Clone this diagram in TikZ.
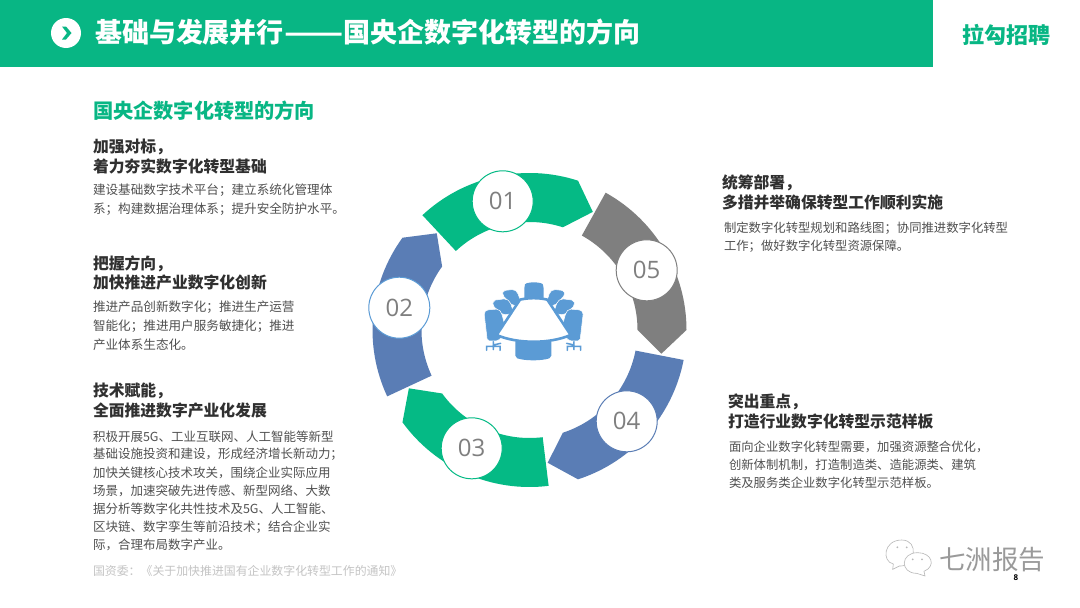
\documentclass[tikz,border=0pt]{standalone}
\usepackage{fontspec}
\setmainfont{Noto Sans CJK SC}
\newfontfamily\latn{Open Sans}
\definecolor{hgreen}{HTML}{08B684}
\definecolor{sgreen}{HTML}{05BA85}
\definecolor{sblue}{HTML}{5A7DB5}
\definecolor{lblue}{HTML}{5B9BD5}
\definecolor{sgray}{HTML}{7F7F7F}
\definecolor{headc}{HTML}{303030}
\definecolor{bodyc}{HTML}{505050}
\definecolor{srcc}{HTML}{C4C4C4}
\definecolor{wmc}{HTML}{9A9A9A}
\newcommand{\fs}[1]{\fontsize{#1pt}{#1pt}\selectfont}
\tikzset{
  txt/.style={anchor=west,inner sep=0pt,outer sep=0pt},
  headt/.style={txt,text=headc,font=\fs{15.8}\bfseries},
  bodyt/.style={txt,text=bodyc,font=\fs{12.6}},
  numc/.style={circle,fill=white,draw=#1,line width=1pt,minimum size=61pt,inner sep=0pt,text=sgray,font=\latn\fs{24}},
  seg/.style={fill=#1,draw=none},
  chair/.style={fill=lblue,draw=white,line width=0.5pt,rounded corners=2pt},
  leg/.style={draw=lblue,line width=1.5pt,line cap=round,fill=none},
}
\begin{document}
\begin{tikzpicture}[x=1pt,y=-1pt]
\useasboundingbox (0,0) rectangle (1080,608);
\fill[white] (0,0) rectangle (1080,608);
% header
\fill[hgreen] (0,0) rectangle (933,67);
\node[circle,fill=white,minimum size=30pt,inner sep=0pt] (hicon) at (66,33) {};
\fill[hgreen] (62,26.5) -- (66,26.5) -- (71.5,33) -- (66,39.5) -- (62,39.5) -- (67,33) -- cycle;
\node[txt,text=white,font=\fs{27}\bfseries] (title) at (95,32.5) {基础与发展并行\scalebox{1.28}[1]{——}国央企数字化转型的方向};
\node[anchor=center,inner sep=0pt,text=hgreen,font=\fs{22}\bfseries] (brand) at (1006.5,35) {拉勾招聘};
% left texts
\node[txt,text=hgreen,font=\fs{20.2}\bfseries] (sub) at (93,111) {国央企数字化转型的方向};
\node[headt] (h1a) at (93,147) {加强对标，};
\node[headt] (h1b) at (93,166) {着力夯实数字化转型基础};
\node[bodyt] (b1a) at (93,190) {建设基础数字技术平台；建立系统化管理体};
\node[bodyt] (b1b) at (93,209) {系；构建数据治理体系；提升安全防护水平。};
\node[headt] (h2a) at (93,264) {把握方向，};
\node[headt] (h2b) at (93,283) {加快推进产业数字化创新};
\node[bodyt] (b2a) at (93,307.5) {推进产品创新数字化；推进生产运营};
\node[bodyt] (b2b) at (93,326) {智能化；推进用户服务敏捷化；推进};
\node[bodyt] (b2c) at (93,345) {产业体系生态化。};
\node[headt] (h3a) at (93,391) {技术赋能，};
\node[headt] (h3b) at (93,411) {全面推进数字产业化发展};
\node[bodyt,font=\fs{12.5}] (b3a) at (93,436.7) {积极开展5G、工业互联网、人工智能等新型};
\node[bodyt,font=\fs{12.5}] (b3b) at (93,454.5) {基础设施投资和建设，形成经济增长新动力；};
\node[bodyt,font=\fs{12.5}] (b3c) at (93,472.5) {加快关键核心技术攻关，围绕企业实际应用};
\node[bodyt,font=\fs{12.5}] (b3d) at (93,490.7) {场景，加速突破先进传感、新型网络、大数};
\node[bodyt,font=\fs{12.5}] (b3e) at (93,509) {据分析等数字化共性技术及5G、人工智能、};
\node[bodyt,font=\fs{12.5}] (b3f) at (93,527) {区块链、数字孪生等前沿技术；结合企业实};
\node[bodyt,font=\fs{12.5}] (b3g) at (93,545) {际，合理布局数字产业。};
\node[txt,text=srcc,font=\fs{11.9}] (src) at (93,570.5) {国资委：《关于加快推进国有企业数字化转型工作的通知》};
% right texts
\node[headt] (h5a) at (722,183) {统筹部署，};
\node[headt] (h5b) at (722,202) {多措并举确保转型工作顺利实施};
\node[bodyt,font=\fs{12.35}] (b5a) at (724,228) {制定数字化转型规划和路线图；协同推进数字化转型};
\node[bodyt,font=\fs{12.35}] (b5b) at (724,246.5) {工作；做好数字化转型资源保障。};
\node[headt] (h4a) at (728,402) {突出重点，};
\node[headt] (h4b) at (728,421) {打造行业数字化转型示范样板};
\node[bodyt,font=\fs{12.35}] (b4a) at (729,447) {面向企业数字化转型需要，加强资源整合优化，};
\node[bodyt,font=\fs{12.35}] (b4b) at (729,465) {创新体制机制，打造制造类、造能源类、建筑};
\node[bodyt,font=\fs{12.35}] (b4c) at (729,482.5) {类及服务类企业数字化转型示范样板。};
% ring segments (clockwise from 01)
\begin{scope}[x=1pt,y=1pt,shift={(529.5,-330)}]
\foreach \k/\c in {0/sgreen,1/sgray,2/sblue,3/sgreen,4/sblue}{
  \pgfmathsetmacro{\ta}{133-72*\k}
  \pgfmathsetmacro{\he}{72-72*\k}
  \pgfmathsetmacro{\ti}{61.8-72*\k}
  \fill[seg=\c] (\ta:157pt) arc[start angle=\ta,end angle=\he,radius=157pt] -- (\ti:134pt) -- (\he:108pt) arc[start angle=\he,end angle=\ta,radius=108pt] -- cycle;
}
\end{scope}
\node[numc=sgreen] (n1) at (502.7,201.3) {01};
\node[numc=lblue] (n2) at (399.3,307.7) {02};
\node[numc=sgreen] (n3) at (471.7,448.3) {03};
\node[numc=sblue] (n4) at (626.7,421.3) {04};
\node[numc=sgray] (n5) at (646.7,270.3) {05};
% conference table icon
\begin{scope}[shift={(470,275)},x=0.3333pt,y=-0.3333pt]
% top and bottom chairs
\fill[lblue,rounded corners=2pt] (163,80) -- (163,34) .. controls (168,20) and (215,20) .. (221,34) -- (221,80) -- cycle;
\fill[lblue,rounded corners=2pt] (136,195) -- (244,195) -- (244,248) .. controls (215,258) and (165,258) .. (136,248) -- cycle;
% side chairs, far to near
\filldraw[chair] (97,60) -- (99,47) -- (132,43) -- (143,52) -- (155,90) -- (128,92) -- cycle;
\filldraw[chair] (285,60) -- (283,47) -- (250,43) -- (239,52) -- (227,90) -- (254,92) -- cycle;
\filldraw[chair] (68,92) -- (70,76) -- (108,71) -- (120,80) -- (132,115) -- (100,120) -- cycle;
\filldraw[chair] (314,92) -- (312,76) -- (274,71) -- (262,80) -- (250,115) -- (282,120) -- cycle;
\filldraw[chair] (42,112) -- (49,105) -- (85,102) -- (94,112) -- (110,170) -- (84,198) -- (52,198) -- cycle;
\filldraw[chair] (340,112) -- (333,105) -- (297,102) -- (288,112) -- (272,170) -- (298,198) -- (330,198) -- cycle;
% casters
\draw[leg] (70,200) -- (70,224) (50,226) -- (50,214) -- (90,214) -- (90,226) (92,205) -- (70,210);
\draw[leg] (312,200) -- (312,224) (292,226) -- (292,214) -- (332,214) -- (332,226) (290,205) -- (312,210);
% table
\filldraw[fill=white,draw=lblue,line width=2.6pt,line join=round] (150,74) .. controls (175,68) and (207,68) .. (232,74) -- (302,180) .. controls (240,207) and (142,207) .. (80,180) -- cycle;
\end{scope}
% watermark
\begin{scope}[shift={(880,530)},x=0.3333pt,y=-0.3333pt,draw=wmc!70,line width=0.6pt]
\draw[fill=white] (65,30) .. controls (10,30) and (5,95) .. (40,102) -- (38,118) -- (58,108) .. controls (105,112) and (120,30) .. (65,30) -- cycle;
\draw[fill=white] (113,68) .. controls (60,68) and (60,130) .. (110,130) -- (135,138) -- (132,124) .. controls (170,108) and (155,68) .. (113,68) -- cycle;
\fill[wmc!70] (52,52) circle[radius=3] (80,52) circle[radius=3] (98,88) circle[radius=3] (126,88) circle[radius=3];
\end{scope}
\node[anchor=center,inner sep=0pt,text=wmc,font=\fs{26.5}] (wm) at (992,560) {七洲报告};
\node[anchor=center,inner sep=0pt,text=black,font=\latn\fs{8}\bfseries] (pg) at (1016,578) {8};
\end{tikzpicture}
\end{document}
